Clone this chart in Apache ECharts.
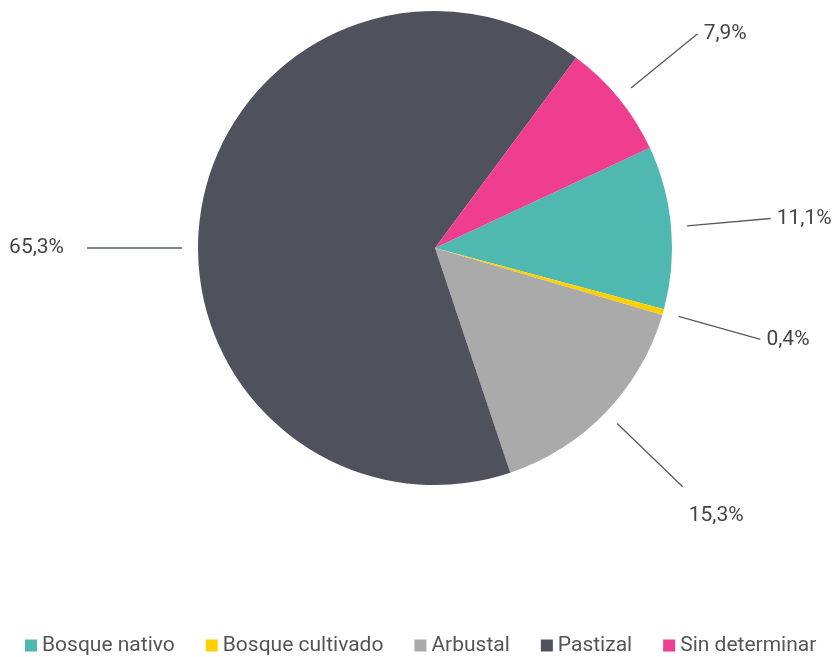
<!DOCTYPE html>
<html>
<head>
<meta charset="utf-8">
<script src="https://cdn.jsdelivr.net/npm/echarts@6/dist/echarts.min.js"></script>
<style>
html,body{margin:0;padding:0;background:#fff;}
#chart{width:839px;height:657px;}
</style>
</head>
<body>
<div id="chart"></div>
<script>
const categories = ['Bosque nativo', 'Bosque cultivado', 'Arbustal', 'Pastizal', 'Sin determinar'];
const values = [11.1, 0.4, 15.3, 65.3, 7.9];
const colors = ['#4fb8b0', '#ffd000', '#aaaaaa', '#4f525c', '#ef3e8f'];

const CX = 435, CY = 248, R = 237, RL = 253;
const lineLen = [84, 85, 91, 95, 86];

const chart = echarts.init(document.getElementById('chart'), null, {renderer: 'canvas'});
const fmt = v => v.toFixed(1).replace('.', ',') + '%';

chart.setOption({
  animation: false,
  textStyle: {fontFamily: 'Roboto'},
  color: colors,
  legend: {
    data: categories,
    top: 630,
    left: 20,
    icon: 'rect',
    itemWidth: 12,
    itemHeight: 12,
    itemGap: 31,
    textStyle: {fontSize: 21, color: '#555', fontFamily: 'Roboto'},
    selectedMode: false
  },
  series: [
    {
      type: 'pie',
      center: [CX, CY],
      radius: [0, R],
      startAngle: 25,
      clockwise: true,
      silent: true,
      label: {show: false},
      labelLine: {show: false},
      data: categories.map((n, i) => ({name: n, value: values[i], itemStyle: {color: colors[i]}}))
    },
    {
      type: 'pie',
      center: [CX, CY],
      radius: [0, RL],
      startAngle: 25,
      clockwise: true,
      silent: true,
      z: 3,
      avoidLabelOverlap: false,
      itemStyle: {color: 'rgba(0,0,0,0)'},
      label: {
        show: true,
        position: 'outside',
        formatter: p => fmt(p.value),
        fontSize: 21,
        color: '#444',
        fontFamily: 'Roboto',
        distanceToLabelLine: 6
      },
      labelLine: {show: true, length: 85, length2: 0, lineStyle: {color: '#555a64', width: 1.3}},
      emphasis: {disabled: true},
      labelLayout: function (p) {
        if (p.dataIndex === 3) {
          const x0 = CX - RL, x1 = x0 - lineLen[3];
          return {
            labelLinePoints: [[x0, CY], [x1, CY], [x1, CY]],
            x: x1 - 23, y: CY, align: 'right', verticalAlign: 'middle'
          };
        }
        if (p.dataIndex === 2) {
          return {labelLinePoints: p.labelLinePoints, dy: 29};
        }
        return {};
      },
      data: categories.map((n, i) => ({
        name: n, value: values[i],
        itemStyle: {color: 'rgba(0,0,0,0)'},
        labelLine: {length: lineLen[i], length2: 0}
      }))
    }
  ]
});
</script>
</body>
</html>
